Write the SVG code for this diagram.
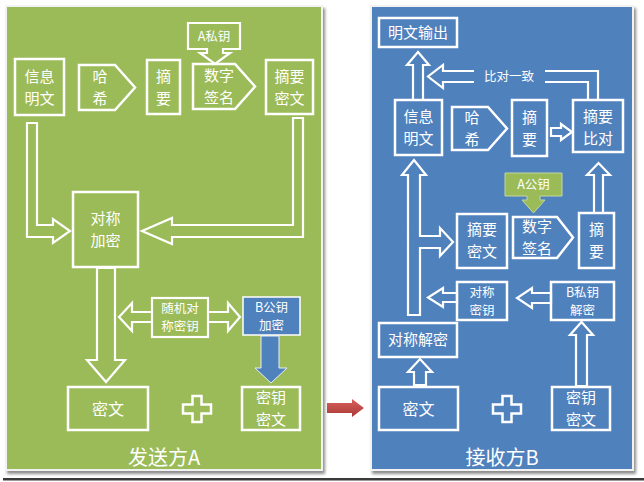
<svg xmlns="http://www.w3.org/2000/svg" width="644" height="482" viewBox="0 0 644 482">
<defs>
<style>
.bx{fill:none;stroke:#fff;stroke-width:2.5}
.ag{fill:#9BBB59;stroke:#fff;stroke-width:2.2;stroke-linejoin:miter}
.ab{fill:#4F81BD;stroke:#fff;stroke-width:2.2;stroke-linejoin:miter}
.t{font-family:"Noto Sans CJK SC","Noto Sans",sans-serif;fill:#fff;text-anchor:middle;font-size:15px}
.s{font-size:12.5px}
.m{font-size:15px}
.one{font-size:16px}
.big{font-size:20px}
</style>
<filter id="sh" x="-5%" y="-5%" width="110%" height="110%">
<feGaussianBlur in="SourceAlpha" stdDeviation="1.5"/>
<feOffset dx="2" dy="3"/>
<feComponentTransfer><feFuncA type="linear" slope="0.45"/></feComponentTransfer>
<feMerge><feMergeNode/><feMergeNode in="SourceGraphic"/></feMerge>
</filter>
<linearGradient id="red" x1="0" y1="0" x2="0" y2="1">
<stop offset="0" stop-color="#D8605C"/><stop offset="1" stop-color="#A83A37"/>
</linearGradient>
</defs>
<rect width="644" height="482" fill="#fff"/>
<rect x="3" y="478" width="641" height="2.5" fill="#3a3a3a"/>

<!-- panels -->
<g id="panelA">
<rect x="6" y="6" width="316" height="464" fill="#9BBB59" stroke="#f2f2f2" stroke-width="2" filter="url(#sh)"/>
<text class="t big" x="164" y="465">发送方A</text>
</g>
<g id="panelB">
<rect x="371" y="6" width="262" height="464" fill="#4F81BD" stroke="#f2f2f2" stroke-width="2" filter="url(#sh)"/>
<text class="t big" x="502" y="465">接收方B</text>
</g>

<!-- connectors -->
<g id="connectors">
<path class="ag" d="M27,123 H37 V225 H53 V219 L70,231 L53,243 V237 H27 Z"/>
<path class="ag" d="M293,118 H303 V237 H172 V244 L142,231 L172,218 V225 H293 Z"/>
<path class="ag" d="M97,268 H115 V360 H125 L106,382 L87,360 H97 Z"/>
<path class="ag" d="M119,317 L132,303 V312 H228 V303 L240,317 L228,331 V322 H132 V331 Z"/>
<path fill="#4F81BD" stroke="#e8eef8" stroke-width="1" d="M261,336 H279 V368 H287 L271,383 L255,368 H261 Z"/>
<path fill="url(#red)" d="M327,403 H352 V399 L364,408 L352,417 V413 H327 Z"/>
<path class="ab" d="M413,100 V65 H407 L418,52 L429,65 H423 V100 Z"/>
<path class="ab" d="M598,100 V71 H443 V65 L428,76.5 L443,88 V82 H588 V100 Z"/>
<rect x="474" y="67" width="71" height="19" fill="#4F81BD"/>
<text class="t s" x="509" y="81">比对一致</text>
<path class="ab" d="M551,128 H561 V124 L572,132 L561,140 V136 H551 Z"/>
<path class="ab" d="M594,213 V175 H587 L598.5,163 L610,175 H603 V213 Z"/>
<path class="ab" d="M408,315 V175 H402 L414,160 L426,175 H420 V236 H440 V228 L453,242 L440,256 V248 H420 V315 Z"/>
<path class="ab" d="M457,293 H443 V288 L428,297.5 L443,307 V302 H457 Z"/>
<path class="ab" d="M551,293 H532 V288 L517,298 L532,308 V303 H551 Z"/>
<path class="ab" d="M414,385 V372 H408 L420,359 L432,372 H426 V385 Z"/>
<path class="ab" d="M576,386 V335 H570 L581.5,322 L593,335 H587 V386 Z"/>
</g>

<!-- left nodes -->
<g id="a_info"><rect class="bx" x="15" y="59" width="49" height="56"/><text class="t" x="39.5" y="81.5">信息<tspan x="39.5" dy="22">明文</tspan></text></g>
<g id="a_hash"><path class="bx" d="M79,65 H115 L135,87.5 L115,110 H79 Z"/><text class="t" x="100" y="82">哈<tspan x="100" dy="22">希</tspan></text></g>
<g id="a_digest"><rect class="bx" x="147" y="60" width="33" height="54"/><text class="t" x="163.5" y="81.5">摘<tspan x="163.5" dy="22">要</tspan></text></g>
<g id="a_sign"><path class="bx" d="M193,64 H235 L255,86.5 L235,109 H193 Z"/><text class="t" x="219" y="81">数字<tspan x="219" dy="22">签名</tspan></text></g>
<g id="a_privkey"><path class="ag" d="M188,23 H240 V49 H223 V53 H230 L215,64 L200,53 H207 V49 H188 Z"/><text class="t s" x="214" y="41">A私钥</text></g>
<g id="a_digestcipher"><rect class="bx" x="266" y="60" width="47" height="54"/><text class="t" x="289.5" y="81.5">摘要<tspan x="289.5" dy="22">密文</tspan></text></g>
<g id="a_symenc"><rect class="bx" x="73" y="192" width="65" height="75"/><text class="t" x="105.5" y="224">对称<tspan x="105.5" dy="22">加密</tspan></text></g>
<g id="a_randkey"><rect class="ag" x="152" y="298" width="56" height="39"/><text class="t s" x="180" y="313">随机对<tspan x="180" dy="18.2">称密钥</tspan></text></g>
<g id="a_bpub"><rect fill="#4F81BD" stroke="#fff" stroke-width="1.5" x="243" y="297" width="57" height="38"/><text class="t s" x="271.5" y="311.5">B公钥<tspan x="271.5" dy="18.2">加密</tspan></text></g>
<g id="a_cipher"><rect class="bx" x="68" y="387" width="80" height="43"/><text class="t one" x="108" y="415">密文</text></g>
<g id="a_plus"><path class="bx" d="M192.5,396 H201.5 V404.5 H211 V413.5 H201.5 V422 H192.5 V413.5 H183 V404.5 H192.5 Z"/></g>
<g id="a_keycipher"><rect class="bx" x="242" y="387" width="58" height="43"/><text class="t" x="271" y="403">密钥<tspan x="271" dy="22">密文</tspan></text></g>

<!-- right nodes -->
<g id="b_out"><rect class="bx" x="379" y="18" width="78" height="29"/><text class="t m" x="418" y="38">明文输出</text></g>
<g id="b_info"><rect class="bx" x="395" y="100" width="47" height="55"/><text class="t" x="418.5" y="122">信息<tspan x="418.5" dy="22">明文</tspan></text></g>
<g id="b_hash"><path class="bx" d="M452,107 H488 L507,128.5 L488,150 H452 Z"/><text class="t" x="472" y="123">哈<tspan x="472" dy="22">希</tspan></text></g>
<g id="b_digest"><rect class="bx" x="512" y="100" width="35" height="56"/><text class="t" x="529.5" y="122.5">摘<tspan x="529.5" dy="22">要</tspan></text></g>
<g id="b_compare"><rect class="bx" x="573" y="100" width="50" height="52"/><text class="t" x="598" y="122">摘要<tspan x="598" dy="22">比对</tspan></text></g>
<g id="b_apub"><path fill="#9BBB59" stroke="#c5d89a" stroke-width="1" d="M505,173 H562 V196 H540 V200 H545 L533.5,213 L522,200 H527 V196 H505 Z"/><text class="t s" x="533.5" y="189">A公钥</text></g>
<g id="b_digestcipher"><rect class="bx" x="457" y="214" width="50" height="54"/><text class="t" x="482" y="235">摘要<tspan x="482" dy="22">密文</tspan></text></g>
<g id="b_sign"><path class="bx" d="M513,217 H557 L573,237.5 L557,258 H513 Z"/><text class="t" x="537" y="232">数字<tspan x="537" dy="22">签名</tspan></text></g>
<g id="b_digest2"><rect class="bx" x="579" y="213" width="35" height="55"/><text class="t" x="596.5" y="235">摘<tspan x="596.5" dy="22">要</tspan></text></g>
<g id="b_symkey"><rect class="bx" x="457" y="282" width="50" height="38"/><text class="t s" x="482" y="296.5">对称<tspan x="482" dy="18.2">密钥</tspan></text></g>
<g id="b_bpriv"><rect class="bx" x="551" y="282" width="63" height="38"/><text class="t s" x="582.5" y="296.5">B私钥<tspan x="582.5" dy="18.2">解密</tspan></text></g>
<g id="b_symdec"><rect class="bx" x="379" y="323" width="78" height="34"/><text class="t m" x="418" y="345">对称解密</text></g>
<g id="b_cipher"><rect class="bx" x="379" y="387" width="79" height="43"/><text class="t one" x="418.5" y="415">密文</text></g>
<g id="b_plus"><path class="bx" d="M502.5,396 H511.5 V404.5 H521 V413.5 H511.5 V422 H502.5 V413.5 H493 V404.5 H502.5 Z"/></g>
<g id="b_keycipher"><rect class="bx" x="552" y="387" width="58" height="43"/><text class="t" x="581" y="403">密钥<tspan x="581" dy="22">密文</tspan></text></g>
</svg>
